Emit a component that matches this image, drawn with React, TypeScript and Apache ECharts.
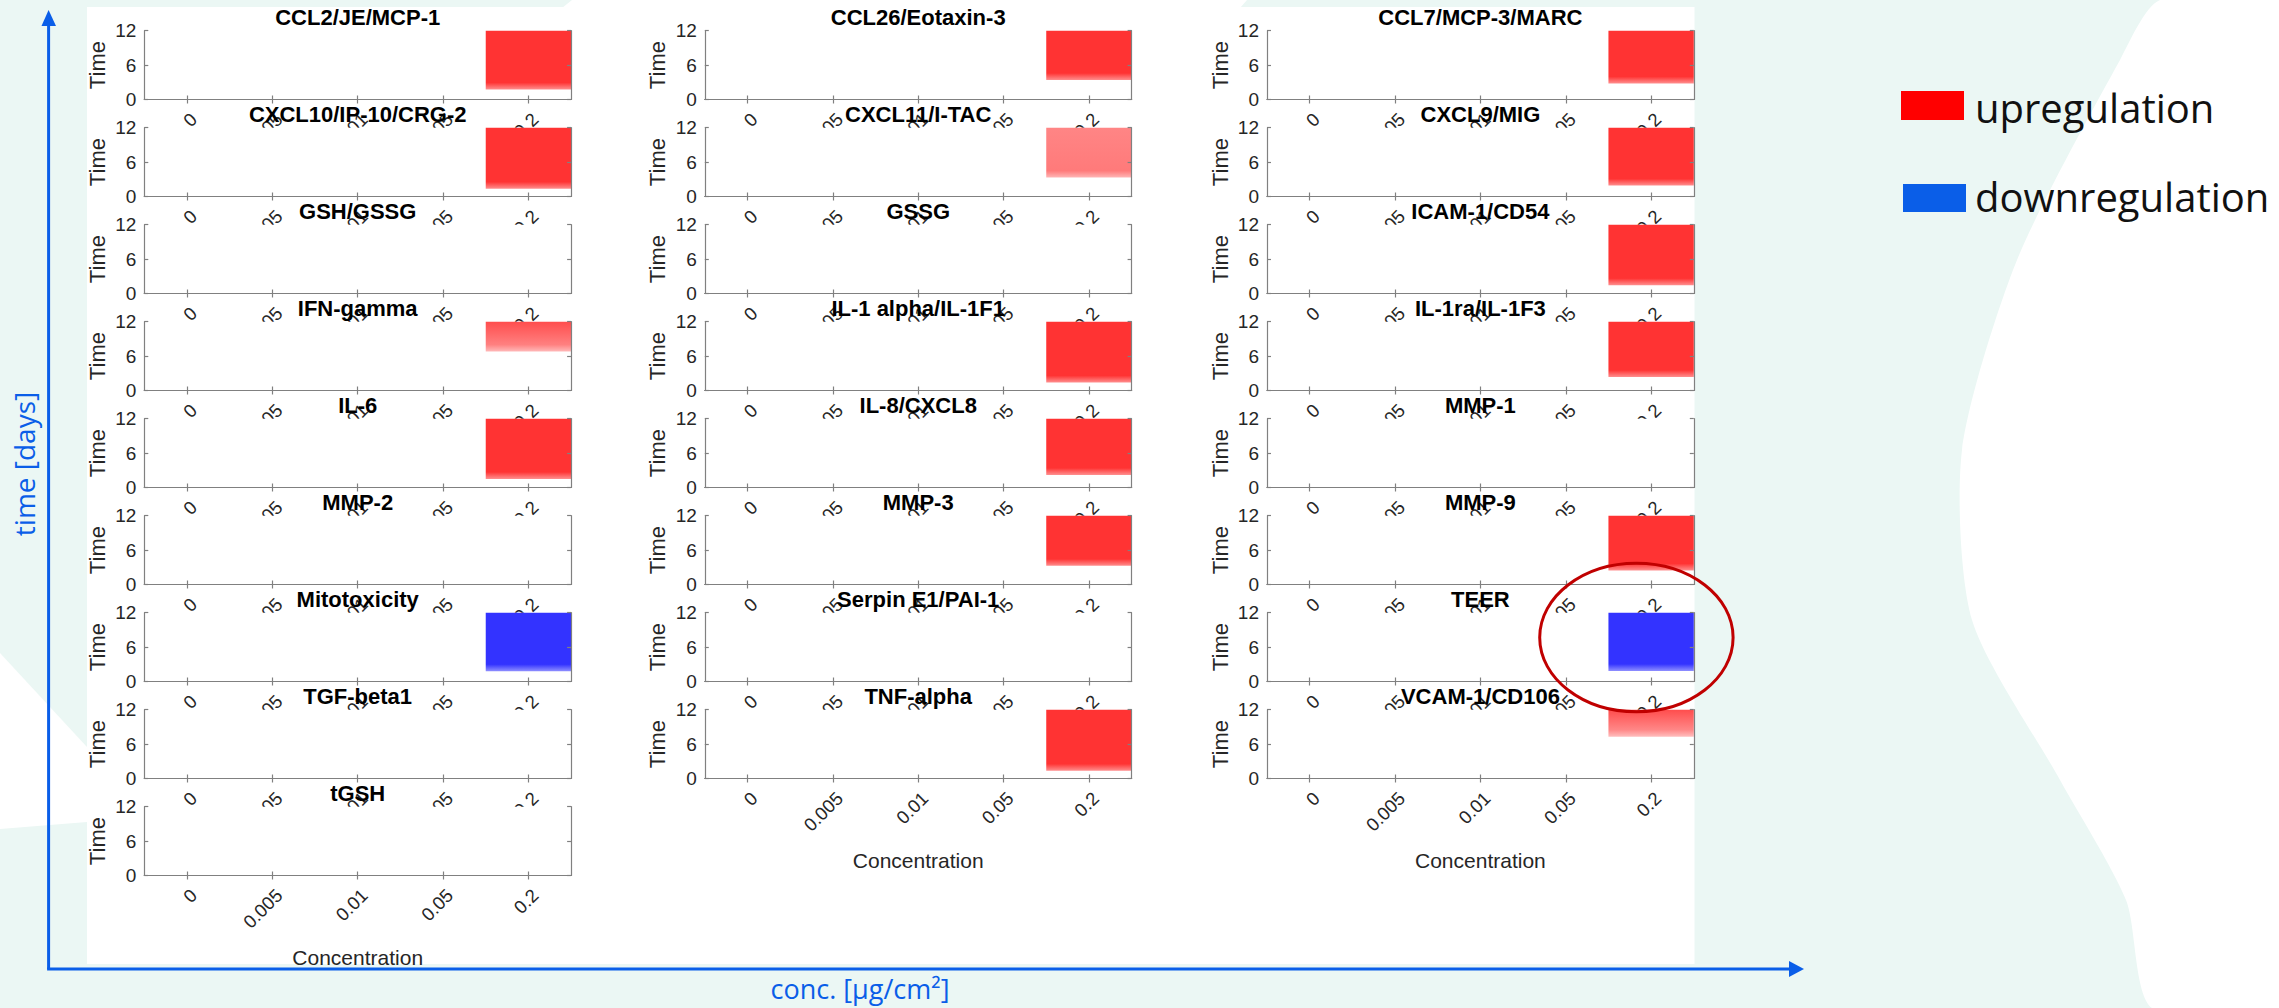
import React, { useEffect, useRef } from 'react';
import * as echarts from 'echarts';

// ---------------- data ----------------
const concentrations = ['0', '0.005', '0.01', '0.05', '0.2'];
const respondingConcentration = '0.2';
const timeMin = 0;
const timeMax = 12;
const timeStep = 6;

const col1Names = ['CCL2/JE/MCP-1', 'CXCL10/IP-10/CRG-2', 'GSH/GSSG', 'IFN-gamma', 'IL-6', 'MMP-2', 'Mitotoxicity', 'TGF-beta1', 'tGSH'];
// day from which the response at the responding concentration is seen (until day 12); null = no response
const col1Onset = [1.75, 1.35, null, 6.8, 1.5, null, 1.8, null, null];
// signed intensity at day 12 (+ upregulation, - downregulation)
const col1Late = [0.8, 0.8, 0, 0.7, 0.8, 0, -0.8, 0, 0];
// signed intensity at onset
const col1Early = [0.8, 0.8, 0, 0.5, 0.8, 0, -0.8, 0, 0];

const col2Names = ['CCL26/Eotaxin-3', 'CXCL11/I-TAC', 'GSSG', 'IL-1 alpha/IL-1F1', 'IL-8/CXCL8', 'MMP-3', 'Serpin E1/PAI-1', 'TNF-alpha'];
const col2Onset = [3.4, 3.3, null, 1.4, 2.2, 3.25, null, 1.35];
const col2Late = [0.8, 0.48, 0, 0.8, 0.8, 0.8, 0, 0.8];
const col2Early = [0.8, 0.52, 0, 0.8, 0.8, 0.8, 0, 0.8];

const col3Names = ['CCL7/MCP-3/MARC', 'CXCL9/MIG', 'ICAM-1/CD54', 'IL-1ra/IL-1F3', 'MMP-1', 'MMP-9', 'TEER', 'VCAM-1/CD106'];
const col3Onset = [2.8, 1.9, 1.45, 2.35, null, 2.45, 1.85, 7.3];
const col3Late = [0.8, 0.8, 0.8, 0.8, 0, 0.8, -0.8, 0.7];
const col3Early = [0.8, 0.8, 0.8, 0.8, 0, 0.8, -0.8, 0.47];

const legendLabels = ['upregulation', 'downregulation'];
const xAxisTitle = 'conc. [µg/cm²]';
const yAxisTitle = 'time [days]';

// ---------------- styling / layout ----------------
const W = 2279;
const H = 1008;
const MINT = '#ebf7f4';
const BLUE = '#0a5ee8';
const AXIS_GRAY = '#808080';
const TXT = '#262626';
const ARIAL = '"Liberation Sans", Arial, Helvetica, sans-serif';
const SANS = '"Open Sans", "Noto Sans", sans-serif';

const colLeft = [144.3, 704.8, 1267];
const gridW = 426.8;
const gridH = 68.8;
const row0Top = 30.7;
const rowPitch = 97;

function shade(k: number): string {
  const a = Math.min(1, Math.abs(k));
  const v = Math.round(255 * (1 - a));
  return k >= 0 ? `rgb(255,${v},${v})` : `rgb(${v},${v},255)`;
}

function buildOption() {
  const columns = [
    { names: col1Names, onset: col1Onset, late: col1Late, early: col1Early },
    { names: col2Names, onset: col2Onset, late: col2Late, early: col2Early },
    { names: col3Names, onset: col3Onset, late: col3Late, early: col3Early },
  ];
  const grids: any[] = [];
  const xAxes: any[] = [];
  const yAxes: any[] = [];
  const series: any[] = [];
  const titles: any[] = [];
  const respIdx = concentrations.indexOf(respondingConcentration);

  const lineStyle = { color: AXIS_GRAY, width: 1.2 };

  columns.forEach((col, c) => {
    const n = col.names.length;
    col.names.forEach((name, r) => {
      const idx = grids.length;
      const z0 = r * 10;
      const top = row0Top + r * rowPitch;
      const left = colLeft[c];
      const isLast = r === n - 1;
      grids.push({
        left, top, width: gridW, height: gridH,
        show: true, backgroundColor: '#ffffff', borderWidth: 0,
        z: z0 + 1, outerBoundsMode: 'none', containLabel: false,
      });
      titles.push({
        text: name,
        left: left + gridW / 2,
        top: top - 24.5,
        textAlign: 'center',
        padding: 0,
        z: 300,
        textStyle: { fontFamily: ARIAL, fontSize: 22, fontWeight: 'bold', color: '#000' },
      });
      // bottom x axis
      xAxes.push({
        type: 'category', gridIndex: idx, data: concentrations, position: 'bottom', z: z0 + 3,
        boundaryGap: true,
        axisLine: { show: true, lineStyle },
        axisTick: { show: true, inside: true, alignWithLabel: true, length: 4, lineStyle },
        axisLabel: {
          show: true, interval: 0, rotate: 45, margin: 10, align: 'right', verticalAlign: 'top',
          fontFamily: ARIAL, fontSize: 18.5, color: TXT,
        },
        splitLine: { show: false },
        name: isLast ? 'Concentration' : '',
        nameLocation: 'middle', nameGap: 71, nameMoveOverlap: false,
        nameTextStyle: { fontFamily: ARIAL, fontSize: 21, color: TXT },
      });
      // top x axis (box)
      xAxes.push({
        type: 'category', gridIndex: idx, data: concentrations, position: 'top', z: z0 + 3,
        boundaryGap: true,
        axisLine: { show: true, lineStyle },
        axisTick: { show: true, inside: true, alignWithLabel: true, length: 4, lineStyle },
        axisLabel: { show: false },
        splitLine: { show: false },
      });
      // left y axis
      yAxes.push({
        type: 'value', gridIndex: idx, position: 'left', min: timeMin, max: timeMax, interval: timeStep, z: z0 + 3,
        axisLine: { show: true, lineStyle },
        axisTick: { show: true, inside: true, length: 4, lineStyle },
        axisLabel: { show: true, margin: 8, fontFamily: ARIAL, fontSize: 19, color: TXT },
        splitLine: { show: false },
        name: 'Time', nameLocation: 'middle', nameGap: 36, nameMoveOverlap: false,
        nameTextStyle: { fontFamily: ARIAL, fontSize: 22, color: TXT },
      });
      // right y axis (box)
      yAxes.push({
        type: 'value', gridIndex: idx, position: 'right', min: timeMin, max: timeMax, interval: timeStep, z: z0 + 3,
        axisLine: { show: true, lineStyle },
        axisTick: { show: true, inside: true, length: 4, lineStyle },
        axisLabel: { show: false },
        splitLine: { show: false },
      });

      const onset = col.onset[r];
      if (onset !== null && onset !== undefined) {
        const late = col.late[r];
        const early = col.early[r];
        const up = late >= 0;
        const span = timeMax - onset;
        const fade = Math.min(1.2 / span, 0.5);
        const baseData = concentrations.map((_, i) => (i === respIdx ? onset : '-'));
        const fillData = concentrations.map((_, i) => (i === respIdx ? span : '-'));
        const stack = 'panel' + idx;
        series.push({
          type: 'bar', xAxisIndex: 2 * idx, yAxisIndex: 2 * idx, stack, data: baseData,
          barWidth: '100%', silent: true, z: z0 + 2,
          itemStyle: { color: 'rgba(0,0,0,0)' },
        });
        series.push({
          type: 'bar', name: up ? legendLabels[0] : legendLabels[1],
          xAxisIndex: 2 * idx, yAxisIndex: 2 * idx, stack, data: fillData,
          barWidth: '100%', z: z0 + 2,
          itemStyle: {
            color: new echarts.graphic.LinearGradient(0, 0, 0, 1, [
              { offset: 0, color: shade(late) },
              { offset: 1 - fade, color: shade(early) },
              { offset: 1, color: shade(early * 0.55) },
            ]),
          },
        });
      }
    });
  });

  const elements: any[] = [
    // decorative background shapes
    {
      type: 'polygon', z: -90, silent: true,
      shape: {
        points: [[2160, 0], [2279, 0], [2279, 1008], [2152, 1008], [2126, 900], [2060, 780], [1972, 620], [1962, 450], [2017, 260], [2120, 60]],
        smooth: 0.25,
      },
      style: { fill: '#ffffff' },
    },
    {
      type: 'polygon', z: -90, silent: true,
      shape: { points: [[0, 653], [87, 747], [87, 822], [0, 829]] },
      style: { fill: '#ffffff' },
    },
    {
      type: 'polygon', z: -90, silent: true,
      shape: { points: [[572, 0], [1247, 0], [1240, 8], [562, 8]] },
      style: { fill: '#ffffff' },
    },
    // white figure panel
    { type: 'rect', z: -80, silent: true, shape: { x: 87, y: 7, width: 1607.5, height: 957 }, style: { fill: '#ffffff' } },
    // axis arrows
    { type: 'line', z: -70, silent: true, shape: { x1: 48.6, y1: 969, x2: 48.6, y2: 22 }, style: { stroke: BLUE, lineWidth: 3 } },
    { type: 'polygon', z: -70, silent: true, shape: { points: [[48.6, 10], [41.5, 26], [56, 26]] }, style: { fill: BLUE } },
    { type: 'line', z: -70, silent: true, shape: { x1: 47.1, y1: 969, x2: 1792, y2: 969 }, style: { stroke: BLUE, lineWidth: 3 } },
    { type: 'polygon', z: -70, silent: true, shape: { points: [[1804, 969], [1789, 961], [1789, 977]] }, style: { fill: BLUE } },
    {
      type: 'text', z: -70, silent: true, x: 24, y: 464, rotation: Math.PI / 2,
      style: { text: yAxisTitle, fill: BLUE, font: `28px ${SANS}`, align: 'center', verticalAlign: 'middle' },
    },
    {
      type: 'text', z: -70, silent: true, x: 860, y: 988,
      style: { text: xAxisTitle, fill: BLUE, font: `27px ${SANS}`, align: 'center', verticalAlign: 'middle' },
    },
    // legend
    { type: 'rect', z: -70, silent: true, shape: { x: 1901, y: 91, width: 63, height: 29 }, style: { fill: '#ff0000' } },
    {
      type: 'text', z: -70, silent: true, x: 1975, y: 107,
      style: { text: legendLabels[0], fill: '#111111', font: `40px ${SANS}`, align: 'left', verticalAlign: 'middle' },
    },
    { type: 'rect', z: -70, silent: true, shape: { x: 1903, y: 184, width: 63, height: 28 }, style: { fill: BLUE } },
    {
      type: 'text', z: -70, silent: true, x: 1975, y: 196,
      style: { text: legendLabels[1], fill: '#111111', font: `40px ${SANS}`, align: 'left', verticalAlign: 'middle' },
    },
    // highlight ellipse around TEER
    {
      type: 'ellipse', z: 1000, silent: true,
      shape: { cx: 1636.4, cy: 637.5, rx: 96.7, ry: 74.2 },
      style: { fill: 'none', stroke: '#c00000', lineWidth: 3 },
    },
  ];

  return {
    animation: false,
    backgroundColor: MINT,
    title: titles,
    grid: grids,
    xAxis: xAxes,
    yAxis: yAxes,
    series,
    graphic: { elements },
  };
}

export default function App() {
  const ref = useRef<HTMLDivElement>(null);
  useEffect(() => {
    if (!ref.current) return;
    const chart = echarts.init(ref.current, undefined, { renderer: 'svg' });
    chart.setOption(buildOption() as any);
    return () => chart.dispose();
  }, []);
  return (
    <div
      ref={ref}
      style={{ position: 'fixed', left: 0, top: 0, width: W, height: H }}
    />
  );
}
